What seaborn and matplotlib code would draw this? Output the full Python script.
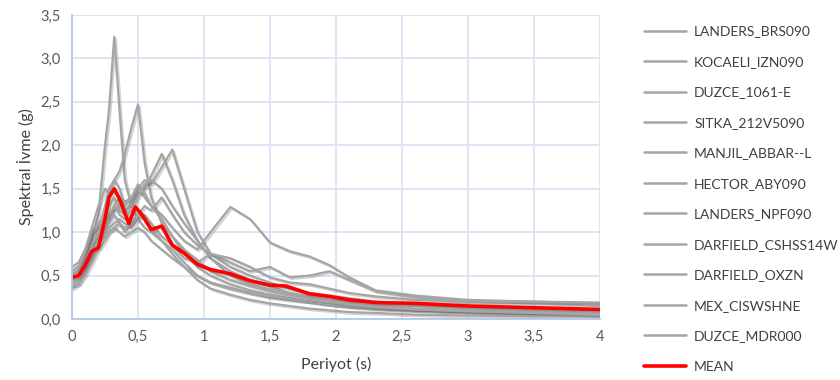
import numpy as np
import pandas as pd
import matplotlib
matplotlib.use('Agg')
import matplotlib.pyplot as plt
import matplotlib.patheffects as pe
import seaborn as sns

# period grid shared by the records (s)
periods = [0.0, 0.05, 0.1, 0.15, 0.2, 0.25, 0.28, 0.32, 0.36, 0.4, 0.45, 0.5, 0.55, 0.6,
           0.68, 0.76, 0.85, 0.95, 1.05, 1.2, 1.35, 1.5, 1.65, 1.8, 1.95, 2.1, 2.3, 2.6,
           3.0, 3.5, 4.0]

landers_brs = [0.45, 0.5, 0.7, 0.9, 1.2, 2.0, 2.4, 3.25, 2.4, 1.6, 1.3, 1.15, 1.05, 1.0,
               0.9, 0.8, 0.65, 0.5, 0.42, 0.36, 0.3, 0.25, 0.22, 0.2, 0.17, 0.15, 0.12, 0.1,
               0.08, 0.06, 0.05]
kocaeli = [0.4, 0.45, 0.6, 0.8, 1.0, 1.3, 1.5, 1.6, 1.7, 1.9, 2.2, 2.47, 1.8, 1.4, 1.1,
           0.95, 0.75, 0.6, 0.5, 0.4, 0.33, 0.28, 0.24, 0.2, 0.17, 0.14, 0.12, 0.1, 0.08,
           0.06, 0.05]
duzce_1061 = [0.5, 0.55, 0.7, 0.85, 1.0, 1.1, 1.2, 1.25, 1.3, 1.35, 1.4, 1.5, 1.6, 1.55,
              1.75, 1.95, 1.5, 1.0, 0.75, 0.6, 0.5, 0.42, 0.35, 0.3, 0.27, 0.24, 0.2, 0.17,
              0.14, 0.12, 0.1]
sitka = [0.55, 0.6, 0.75, 0.95, 1.1, 1.2, 1.15, 1.3, 1.4, 1.25, 1.3, 1.45, 1.5, 1.65, 1.9,
         1.6, 1.2, 0.9, 0.7, 0.55, 0.45, 0.38, 0.3, 0.25, 0.22, 0.2, 0.17, 0.15, 0.13, 0.11,
         0.09]
manjil = [0.6, 0.65, 0.8, 1.0, 1.05, 1.2, 1.3, 1.4, 1.25, 1.2, 1.35, 1.5, 1.4, 1.3, 1.2,
          1.05, 0.9, 0.8, 1.0, 1.29, 1.15, 0.88, 0.78, 0.72, 0.62, 0.48, 0.33, 0.27, 0.22,
          0.2, 0.18]
hector = [0.35, 0.4, 0.55, 0.7, 0.9, 1.0, 1.1, 1.2, 1.1, 1.0, 1.1, 1.2, 1.3, 1.25, 1.4,
          1.2, 1.0, 0.85, 0.75, 0.65, 0.55, 0.6, 0.48, 0.5, 0.55, 0.45, 0.32, 0.25, 0.2,
          0.18, 0.15]
landers_npf = [0.45, 0.5, 0.65, 0.85, 1.0, 1.1, 1.2, 1.3, 1.2, 1.15, 1.25, 1.4, 1.55, 1.6,
               1.5, 1.3, 1.1, 0.9, 0.7, 0.5, 0.4, 0.34, 0.3, 0.26, 0.22, 0.18, 0.15, 0.12,
               0.1, 0.08, 0.06]
darfield_cshs = [0.5, 0.55, 0.75, 1.0, 1.1, 1.0, 1.05, 1.1, 1.15, 1.1, 1.05, 1.15, 1.2, 1.1,
                 0.95, 0.85, 0.7, 0.65, 0.75, 0.7, 0.6, 0.48, 0.42, 0.4, 0.35, 0.3, 0.26,
                 0.22, 0.2, 0.2, 0.19]
darfield_oxzn = [0.4, 0.45, 0.6, 0.75, 0.9, 0.95, 1.0, 1.05, 1.0, 0.95, 1.0, 1.05, 1.0, 0.9,
                 0.8, 0.7, 0.6, 0.5, 0.42, 0.35, 0.3, 0.26, 0.23, 0.2, 0.17, 0.15, 0.13,
                 0.11, 0.09, 0.07, 0.05]
mex = [0.38, 0.4, 0.5, 0.65, 0.8, 0.9, 1.0, 1.05, 1.1, 1.05, 1.1, 1.2, 1.15, 1.05, 0.9,
       0.75, 0.6, 0.45, 0.35, 0.28, 0.22, 0.18, 0.15, 0.12, 0.1, 0.08, 0.07, 0.05, 0.04,
       0.03, 0.03]
duzce_mdr = [0.55, 0.6, 0.8, 1.05, 1.3, 1.5, 1.45, 1.6, 1.5, 1.3, 1.4, 1.55, 1.45, 1.3,
             1.15, 0.95, 0.8, 0.68, 0.55, 0.45, 0.38, 0.32, 0.27, 0.23, 0.2, 0.17, 0.14,
             0.11, 0.09, 0.07, 0.05]

record_names = ['LANDERS_BRS090', 'KOCAELI_IZN090', 'DUZCE_1061-E', 'SITKA_212V5090',
                'MANJIL_ABBAR--L', 'HECTOR_ABY090', 'LANDERS_NPF090', 'DARFIELD_CSHSS14W',
                'DARFIELD_OXZN', 'MEX_CISWSHNE', 'DUZCE_MDR000']
records = [landers_brs, kocaeli, duzce_1061, sitka, manjil, hector, landers_npf,
           darfield_cshs, darfield_oxzn, mex, duzce_mdr]

# mean spectrum read separately
mean_periods = [0.0, 0.05, 0.1, 0.15, 0.2, 0.25, 0.28, 0.32, 0.36, 0.43, 0.48, 0.53, 0.6,
                0.68, 0.76, 0.85, 0.95, 1.05, 1.2, 1.35, 1.5, 1.62, 1.8, 1.95, 2.1, 2.3,
                2.6, 3.0, 3.5, 4.0]
mean_vals = [0.48, 0.5, 0.62, 0.78, 0.82, 1.15, 1.4, 1.5, 1.38, 1.1, 1.29, 1.2, 1.03, 1.07,
             0.85, 0.76, 0.63, 0.57, 0.52, 0.44, 0.39, 0.38, 0.29, 0.26, 0.22, 0.19, 0.18,
             0.15, 0.13, 0.11]

df = pd.DataFrame({name: vals for name, vals in zip(record_names, records)})
df['T'] = periods
long = df.melt(id_vars='T', var_name='record', value_name='Sa')

sns.set_style('white')
plt.rcParams['font.family'] = ['Lato', 'DejaVu Sans']

fig = plt.figure(figsize=(8.4, 3.8), dpi=100)
ax = fig.add_axes([0.0857, 0.1605, 0.6286, 0.80])

shadow = [pe.SimpleLineShadow(offset=(1.2, -1.2), alpha=0.25, shadow_color='#555555'),
          pe.Normal()]

sns.lineplot(data=long, x='T', y='Sa', hue='record', hue_order=record_names,
             palette={n: '#a5a5a5' for n in record_names}, linewidth=1.6,
             ax=ax, legend=False)
for line in ax.get_lines():
    line.set_path_effects(shadow)

sns.lineplot(x=mean_periods, y=mean_vals, color='#ff0000', linewidth=2.6, ax=ax,
             legend=False)
ax.get_lines()[-1].set_path_effects(shadow)

ax.set_xlim(0, 4)
ax.set_ylim(0, 3.5)
xt = np.arange(0, 4.01, 0.5)
yt = np.arange(0, 3.51, 0.5)
ax.set_xticks(xt)
ax.set_yticks(yt)
ax.set_xticklabels([('%g' % v).replace('.', ',') for v in xt])
ax.set_yticklabels([('%.1f' % v).replace('.', ',') for v in yt])
ax.tick_params(axis='both', labelsize=10.5, colors='#595959', length=0, pad=8)
ax.grid(True, color='#dae3f3', linewidth=1.3)
ax.set_axisbelow(True)
for s in ['top', 'right']:
    ax.spines[s].set_visible(False)
for s in ['left', 'bottom']:
    ax.spines[s].set_color('#b4c7e7')
    ax.spines[s].set_linewidth(1.3)

ax.set_xlabel('Periyot (s)', fontsize=11.5, color='#404040', labelpad=9)
ax.set_ylabel('Spektral İvme (g)', fontsize=11.5, color='#404040', labelpad=5)

handles = [plt.Line2D([], [], color='#a5a5a5', linewidth=1.8) for _ in record_names]
handles.append(plt.Line2D([], [], color='#ff0000', linewidth=2.6))
labels = record_names + ['MEAN']
fig.legend(handles, labels, loc='upper left', bbox_to_anchor=(0.752, 0.966),
           frameon=False, fontsize=10, labelcolor='#404040', labelspacing=1.33,
           handlelength=3.0, handletextpad=0.6)

fig.savefig('out.png', dpi=100)
